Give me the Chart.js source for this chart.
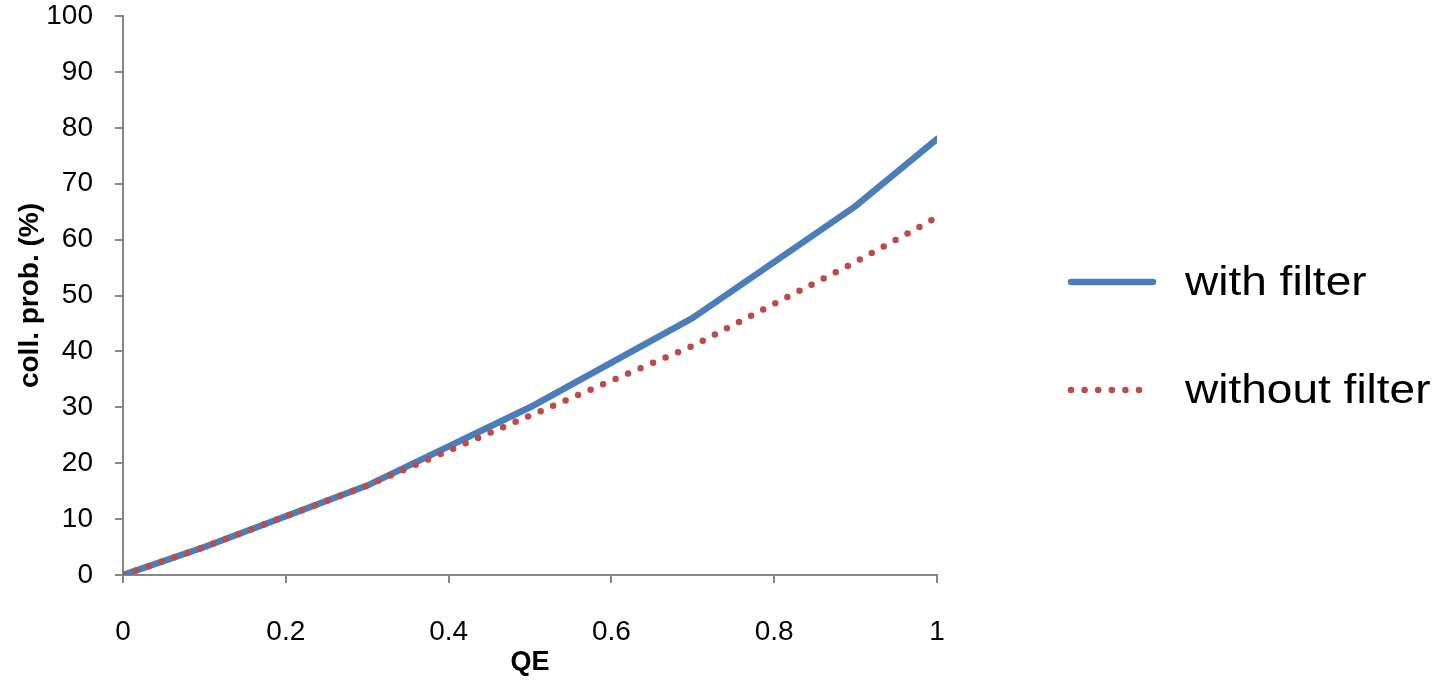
<!DOCTYPE html>
<html>
<head>
<meta charset="utf-8">
<script src="https://cdn.jsdelivr.net/npm/chart.js@4.4.1/dist/chart.umd.min.js"></script>
<style>
  html, body { margin: 0; padding: 0; background: #fff; }
  #wrap { width: 1454px; height: 680px; position: relative; }
</style>
</head>
<body>
<div id="wrap"><canvas id="grafico"></canvas></div>
<script>
// valores
var qe_puntos = [0, 0.1, 0.3, 0.5, 0.7, 0.9, 1];
var con_filtro = [0, 5, 16, 30, 46, 66, 78];
var sin_filtro = [0, 5, 16, 28.5, 41, 56, 64];
var ticks_x = [0, 0.2, 0.4, 0.6, 0.8, 1];
var ticks_y = [0, 10, 20, 30, 40, 50, 60, 70, 80, 90, 100];

var gris_eje = "#868686";
var fuente = "'Liberation Sans', Arial, sans-serif";

function puntos(xs, ys) {
    return xs.map(function (x, i) { return {x: x, y: ys[i]}; });
}

// leyenda dibujada a mano (texto algo estirado como en el original)
var leyenda_plugin = {
    id: "leyenda_custom",
    afterDraw: function (chart) {
        var ctx = chart.ctx;
        var filas = [{ds: chart.data.datasets[0], y: 282}, {ds: chart.data.datasets[1], y: 390}];
        filas.forEach(function (f) {
            ctx.save();
            ctx.strokeStyle = f.ds.borderColor;
            ctx.lineWidth = f.ds.borderWidth;
            ctx.lineCap = "round";
            ctx.setLineDash(f.ds.borderDash || []);
            ctx.beginPath();
            ctx.moveTo(1071, f.y);
            ctx.lineTo(f.ds.borderDash ? 1144 : 1153, f.y);
            ctx.stroke();
            ctx.restore();

            ctx.save();
            ctx.translate(1185, f.y);
            ctx.scale(1.18, 1.05);
            ctx.fillStyle = "#000";
            ctx.font = "39px " + fuente;
            ctx.textBaseline = "middle";
            ctx.textAlign = "left";
            ctx.fillText(f.ds.label, 0, 2);
            ctx.restore();
        });
    }
};

var ctx_graf = document.getElementById("grafico");
var resChart = new Chart(ctx_graf, {
    type: "line",
    data: {
        datasets: [
            {
                label: "with filter",
                data: puntos(qe_puntos, con_filtro),
                borderColor: "#4a7ebb",
                borderWidth: 6.5,
                borderCapStyle: "round",
                borderJoinStyle: "round",
                pointRadius: 0,
                tension: 0,
                order: 2
            },
            {
                label: "without filter",
                data: puntos(qe_puntos, sin_filtro),
                borderColor: "#be4b48",
                borderWidth: 6.5,
                borderDash: [0, 13.6],
                borderCapStyle: "round",
                pointRadius: 0,
                tension: 0,
                order: 1
            }
        ]
    },
    options: {
        responsive: true,
        maintainAspectRatio: false,
        animation: false,
        layout: { padding: { top: 16, right: 517, left: 0, bottom: 0 } },
        plugins: {
            legend: { display: false },
            tooltip: { enabled: false }
        },
        scales: {
            x: {
                type: "linear",
                min: 0,
                max: 1,
                afterBuildTicks: function (scale) {
                    scale.ticks = ticks_x.map(function (v) { return {value: v}; });
                },
                afterFit: function (scale) {
                    scale.height = 105;
                    scale.paddingLeft = 0;
                    scale.paddingRight = 0;
                },
                border: { color: gris_eje, width: 2 },
                grid: { drawOnChartArea: false, drawTicks: true, tickLength: 8, color: gris_eje, lineWidth: 2 },
                ticks: {
                    padding: 32,
                    maxRotation: 0,
                    color: "#000",
                    font: { family: fuente, size: 28 },
                    callback: function (v) { return String(+v.toFixed(1)); }
                },
                title: {
                    display: true,
                    text: "QE",
                    color: "#000",
                    padding: { top: 0, bottom: 1 },
                    font: { family: fuente, size: 27, weight: "bold" }
                }
            },
            y: {
                min: 0,
                max: 100,
                afterBuildTicks: function (scale) {
                    scale.ticks = ticks_y.map(function (v) { return {value: v}; });
                },
                afterFit: function (scale) {
                    scale.width = 123;
                    scale.paddingTop = 0;
                    scale.paddingBottom = 0;
                },
                border: { color: gris_eje, width: 2 },
                grid: { drawOnChartArea: false, drawTicks: true, tickLength: 8, color: gris_eje, lineWidth: 2 },
                ticks: {
                    padding: 22,
                    color: "#000",
                    font: { family: fuente, size: 28 }
                },
                title: {
                    display: true,
                    text: "coll. prob. (%)",
                    color: "#000",
                    padding: { top: 13, bottom: 0 },
                    font: { family: fuente, size: 28, weight: "bold" }
                }
            }
        }
    },
    plugins: [leyenda_plugin]
});
</script>
</body>
</html>
